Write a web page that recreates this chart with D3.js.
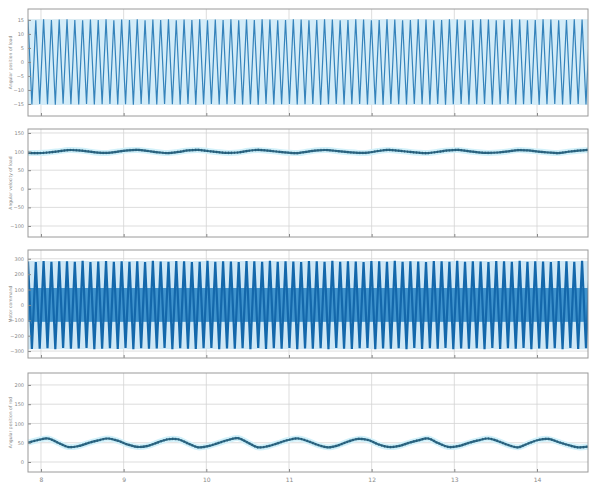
<!DOCTYPE html>
<html><head><meta charset="utf-8">
<script src="https://cdn.jsdelivr.net/npm/d3@7"></script>
<style>body{margin:0;background:#fff}svg{display:block}text{font-family:"DejaVu Sans",Arial,sans-serif}</style>
</head><body><svg id="c" width="589" height="485"></svg>
<script>
// ---- data ----
const xTicks = [8, 9, 10, 11, 12, 13, 14];
const xDomain = [7.843, 14.617];
const yLabels = ["Angular position of load", "Angular velocity of load", "Motor command", "Angular position of rod"];
const yTicks1 = [-15, -10, -5, 0, 5, 10, 15];
const yTicks2 = [-100, -50, 0, 50, 100, 150];
const yTicks3 = [-300, -200, -100, 0, 100, 200, 300];
const yTicks4 = [0, 50, 100, 150, 200];
// panel 1: successive extrema of fast oscillation (sample step dt1)
const t0 = 7.843;
const dt1 = 0.0472;
const pos1 = [15.1,-15.2,14.9,-15.0,15.2,-15.1,15.0,-15.3,15.1,-14.9,
15.2,-15.1,15.0,-15.2,14.9,-15.0,15.1,-15.2,15.0,-15.1,
15.2,-15.0,14.9,-15.2,15.1,-15.1,15.0,-15.3,15.2,-15.0,
14.9,-15.1,15.1,-15.2,15.0,-15.0,15.2,-15.1,14.9,-15.2,
15.1,-15.0,15.0,-15.3,15.2,-15.1,14.9,-15.0,15.1,-15.2,
15.0,-15.1,15.2,-15.0,14.9,-15.2,15.1,-15.1,15.0,-15.3,
15.2,-15.0,15.1,-15.2,14.9,-15.1,15.0,-15.0,15.2,-15.2,
15.1,-15.1,14.9,-15.0,15.0,-15.3,15.2,-15.1,15.1,-15.0,
14.9,-15.2,15.0,-15.1,15.2,-15.0,15.1,-15.2,14.9,-15.1,
15.0,-15.3,15.2,-15.0,15.1,-15.1,14.9,-15.2,15.0,-15.0,
15.2,-15.1,15.1,-15.2,14.9,-15.0,15.0,-15.3,15.2,-15.1,
15.1,-15.0,14.9,-15.2,15.0,-15.1,15.2,-15.0,15.1,-15.2,
14.9,-15.1,15.0,-15.0,15.2,-15.2,15.1,-15.1,14.9,-15.0,
15.0,-15.3,15.2,-15.1,15.1,-15.0,14.9,-15.2,15.0,-15.1,
15.2,-15.0,15.1,-15.2,14.9,-15.1];
// panel 2 and 4: slow signals sampled every dt2
const dt2 = 0.121;
const vel2 = [96.5,96,97.5,100.5,104,103.5,100.5,97,96.5,100,103.5,104.5,101.5,98,96,99,103,104.5,101.5,98.5,
96.5,97.5,102,104.5,102.5,99.5,97,96,100,103.5,104,101,98.5,96.5,97,101.5,104.5,102.5,99.5,97,
96,99.5,103,104.5,101,98,96.5,97.5,100.5,104,103,100,97.5,96,99.5,102.5,104.5];
const rod4 = [50,57,61,50,39,41,49,56,61,55,45,39,42,51,59,59,48,38,41,49,
57,62,50,38,41,49,57,61,54,44,38,43,53,60,57,46,39,41,49,56,
61,49,39,41,49,56,61,54,44,38,48,57,60,52,44,38,40];
// panel 3: successive extrema of command signal (step dt1) and its dense inner band
const cmd3 = [282,-286,279,-284,285,-281,280,-288,283,-279,
284,-285,281,-283,286,-280,279,-287,282,-284,
285,-281,280,-286,283,-279,281,-288,284,-282,
279,-285,286,-283,282,-280,280,-287,285,-281,
283,-284,279,-286,281,-282,286,-279,280,-288,
284,-283,282,-285,279,-281,285,-287,283,-280,
281,-286,286,-282,280,-284,284,-279,282,-288,
279,-283,285,-285,283,-281,281,-287,286,-280,
280,-284,284,-286,282,-282,279,-279,285,-288,
283,-283,281,-285,286,-281,280,-287,284,-280,
282,-286,279,-282,285,-284,283,-279,281,-288,
286,-283,280,-285,284,-281,282,-287,279,-280,
285,-286,283,-282,281,-284,286,-279,280,-288,
284,-283,282,-285,279,-281,285,-287,283,-280,
281,-286,286,-282,280,-284];
const band3 = [-110, 110];

// ---- layout ----
const L = 28, R = 588;
const panels = [
  {top: 9, bot: 116, dom: [-19.3, 18.9], ticks: yTicks1},
  {top: 129, bot: 237, dom: [-129.6, 160.7], ticks: yTicks2},
  {top: 250, bot: 358, dom: [-345, 357], ticks: yTicks3},
  {top: 373, bot: 472, dom: [-26, 231], ticks: yTicks4}
];
const svg = d3.select("#c");
const x = d3.scaleLinear().domain(xDomain).range([L, R]);
const defs = svg.append("defs");

panels.forEach((p, i) => {
  p.y = d3.scaleLinear().domain(p.dom).range([p.bot, p.top]);
  const g = svg.append("g");
  defs.append("clipPath").attr("id", "cp" + i).append("rect")
    .attr("x", L).attr("y", p.top).attr("width", R - L).attr("height", p.bot - p.top);
  g.selectAll(".gx").data(xTicks).enter().append("line")
    .attr("x1", d => x(d)).attr("x2", d => x(d)).attr("y1", p.top).attr("y2", p.bot)
    .attr("stroke", "#d4d4d4").attr("stroke-width", 0.8);
  g.selectAll(".gy").data(p.ticks).enter().append("line")
    .attr("x1", L).attr("x2", R).attr("y1", d => p.y(d)).attr("y2", d => p.y(d))
    .attr("stroke", "#d4d4d4").attr("stroke-width", 0.8);
  p.g = g.append("g").attr("clip-path", `url(#cp${i})`);
  const ay = d3.axisLeft(p.y).tickValues(p.ticks).tickSize(-3).tickPadding(4).tickFormat(d3.format("d"));
  const ga = g.append("g").attr("transform", `translate(${L},0)`).call(ay);
  ga.select(".domain").remove();
  ga.selectAll("line").attr("stroke", "#888");
  ga.selectAll("text").attr("font-size", 5).attr("fill", "#888");
  const axb = d3.axisBottom(x).tickValues(xTicks).tickSize(-3).tickFormat(i === 3 ? d3.format("d") : "");
  const gb = g.append("g").attr("transform", `translate(0,${p.bot})`).call(axb);
  gb.select(".domain").remove();
  gb.selectAll("line").attr("stroke", "#888");
  gb.selectAll("text").attr("font-size", 6).attr("fill", "#888").attr("dy", "1.2em");
  g.append("rect").attr("x", L).attr("y", p.top).attr("width", R - L).attr("height", p.bot - p.top)
    .attr("fill", "none").attr("stroke", "#9a9a9a").attr("stroke-width", 1);
  g.append("text").attr("transform", `translate(12,${(p.top + p.bot) / 2}) rotate(-90)`)
    .attr("text-anchor", "middle").attr("font-size", 4.5).attr("fill", "#888").text(yLabels[i]);
});

// panel 1
{
  const p = panels[0];
  p.g.append("rect").attr("x", L).attr("width", R - L)
    .attr("y", p.y(d3.max(pos1))).attr("height", p.y(d3.min(pos1)) - p.y(d3.max(pos1)))
    .attr("fill", "#d3ecf8");
  const line = d3.line().x((d, i) => x(t0 + i * dt1)).y(d => p.y(d));
  p.g.append("path").datum(pos1).attr("d", line).attr("fill", "none")
    .attr("stroke", "#3583bb").attr("stroke-width", 1.2);
}
// panel 2 & 4
[[1, vel2], [3, rod4]].forEach(([k, arr]) => {
  const p = panels[k];
  const line = d3.line().x((d, i) => x(t0 + i * dt2)).y(d => p.y(d)).curve(d3.curveCatmullRom);
  p.g.append("path").datum(arr).attr("d", line).attr("fill", "none")
    .attr("stroke", "#d2f1fa").attr("stroke-width", 6);
  p.g.append("path").datum(arr).attr("d", line).attr("fill", "none")
    .attr("stroke", "#2f6a86").attr("stroke-width", 2.2);
  p.g.append("path").datum(arr).attr("d", line).attr("fill", "none")
    .attr("stroke", "#1e4f6c").attr("stroke-width", 2.6).attr("stroke-dasharray", "1,2").attr("opacity", 0.6);
});
// panel 3
{
  const p = panels[2];
  p.g.append("rect").attr("x", L).attr("width", R - L)
    .attr("y", p.y(d3.max(cmd3))).attr("height", p.y(d3.min(cmd3)) - p.y(d3.max(cmd3)))
    .attr("fill", "#cfe8f6");
  p.g.append("rect").attr("x", L).attr("width", R - L)
    .attr("y", p.y(band3[1])).attr("height", p.y(band3[0]) - p.y(band3[1]))
    .attr("fill", "#3f93cd");
  const line = d3.line().x((d, i) => x(t0 + i * dt1)).y(d => p.y(d));
  p.g.append("path").datum(cmd3).attr("d", line).attr("fill", "none")
    .attr("stroke", "#1468ab").attr("stroke-width", 2.2);
}
</script></body></html>
